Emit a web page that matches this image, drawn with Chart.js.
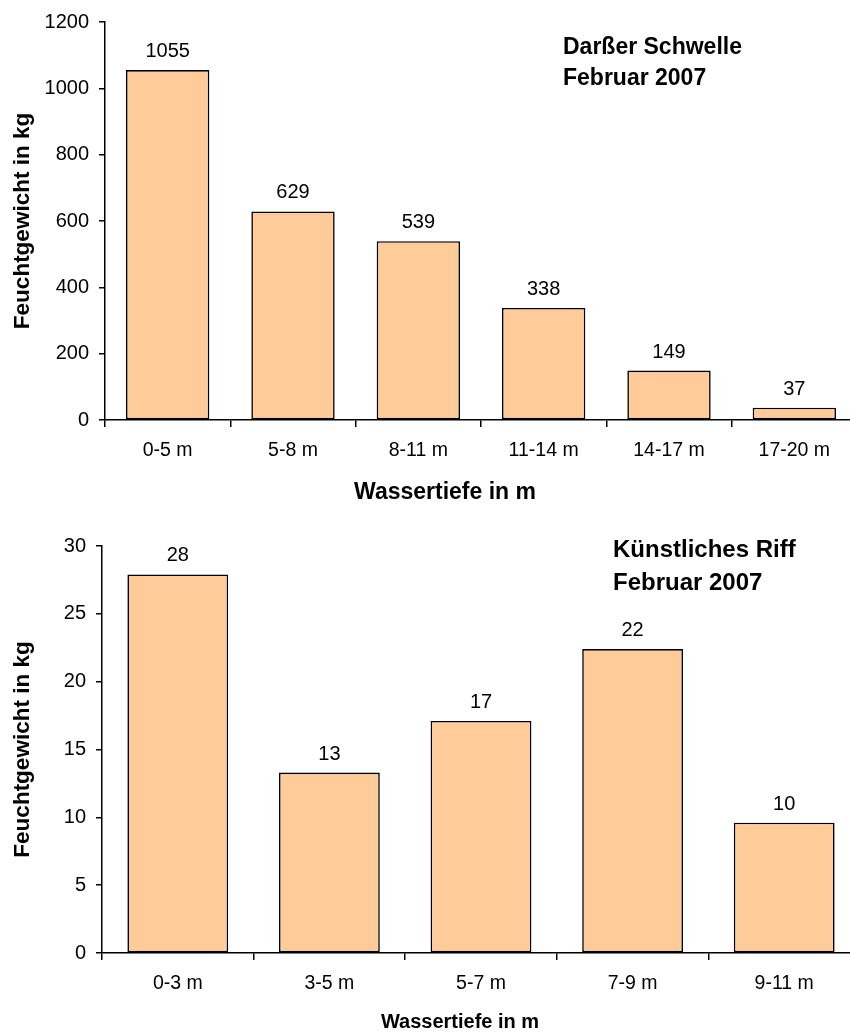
<!DOCTYPE html>
<html>
<head>
<meta charset="utf-8">
<script src="https://cdn.jsdelivr.net/npm/chart.js@4"></script>
<style>
  html, body { margin: 0; padding: 0; background: #fff; overflow: hidden; }
  #wrap { position: relative; width: 850px; height: 1032px; overflow: hidden; }
  #top_chart { position: absolute; left: 0; top: 0; }
  #bottom_chart { position: absolute; left: 0; top: 516px; }
</style>
</head>
<body>
<div id="wrap">
  <canvas id="top_chart" width="857" height="516"></canvas>
  <canvas id="bottom_chart" width="860" height="516"></canvas>
</div>
<script>
// Daten oben: Darßer Schwelle
const top_categories = ['0-5 m', '5-8 m', '8-11 m', '11-14 m', '14-17 m', '17-20 m'];
const top_values = [1055, 629, 539, 338, 149, 37];
const top_y_max = 1200, top_y_step = 200;

// Daten unten: Künstliches Riff
const bottom_categories = ['0-3 m', '3-5 m', '5-7 m', '7-9 m', '9-11 m'];
const bottom_values = [27.9, 13.3, 17.1, 22.4, 9.6];
const bottom_y_max = 30, bottom_y_step = 5;

const y_title = 'Feuchtgewicht in kg';
const x_title = 'Wassertiefe in m';
const top_note = ['Darßer Schwelle', 'Februar 2007'];
const bottom_note = ['Künstliches Riff', 'Februar 2007'];

const FONT = '"Liberation Sans", Arial, sans-serif';

// Beschriftungen über den Balken + Achsentitel + Notiz
const textPlugin = {
    id: 'texts',
    afterDatasetsDraw(chart, args, o) {
        const ctx = chart.ctx;
        const area = chart.chartArea;
        ctx.save();
        ctx.fillStyle = '#000';

        // Werte über den Balken
        ctx.font = '20px ' + FONT;
        ctx.textAlign = 'center';
        ctx.textBaseline = 'alphabetic';
        const meta = chart.getDatasetMeta(0);
        meta.data.forEach((bar, i) => {
            const v = chart.data.datasets[0].data[i];
            ctx.fillText(String(Math.round(v)), bar.x, bar.y - 13);
        });

        // y Titel
        ctx.font = 'bold ' + o.yTitleSize + 'px ' + FONT;
        ctx.save();
        ctx.translate(o.yTitleX, (area.top + area.bottom) / 2);
        ctx.rotate(-Math.PI / 2);
        ctx.textBaseline = 'middle';
        ctx.fillText(y_title, 0, 0);
        ctx.restore();

        // x Titel
        ctx.font = 'bold ' + o.xTitleSize + 'px ' + FONT;
        ctx.textAlign = 'center';
        ctx.fillText(x_title, o.xTitleX, o.xTitleY);

        // Notiz
        ctx.font = 'bold ' + o.noteSize + 'px ' + FONT;
        ctx.textAlign = 'left';
        o.note.forEach((line, i) => {
            ctx.fillText(line, o.noteX, o.noteY + i * o.noteGap);
        });
        ctx.restore();
    }
};

function make_chart(id, cats, vals, ymax, ystep, padTop, yWidth, xHeight, texts) {
    const ctx = document.getElementById(id).getContext('2d');
    return new Chart(ctx, {
        type: 'bar',
        data: {
            labels: cats,
            datasets: [{
                data: vals,
                backgroundColor: '#FFCC99',
                borderColor: '#000',
                borderWidth: 1.6,
                borderSkipped: false,
                barPercentage: 0.665,
                categoryPercentage: 1.0,
            }],
        },
        options: {
            responsive: false,
            animation: false,
            layout: { padding: { top: padTop, right: 0, bottom: 0, left: 0 } },
            plugins: {
                legend: { display: false },
                tooltip: { enabled: false },
                texts: texts,
            },
            scales: {
                x: {
                    grid: { offset: true, drawOnChartArea: false, drawTicks: true, tickLength: 7, color: '#000', lineWidth: 1.5 },
                    border: { display: true, color: '#000', width: 1.5 },
                    ticks: { color: '#000', font: { family: FONT, size: 19.5 }, padding: 12, maxRotation: 0 },
                    afterFit: (scale) => { scale.height = xHeight; },
                },
                y: {
                    min: 0,
                    max: ymax,
                    grid: { drawOnChartArea: false, drawTicks: true, tickLength: 6, color: '#000', lineWidth: 1.5 },
                    border: { display: true, color: '#000', width: 1.5 },
                    ticks: {
                        stepSize: ystep, color: '#000', font: { family: FONT, size: 20 }, padding: 10,
                        callback: (v) => String(v),
                    },
                    afterFit: (scale) => { scale.width = yWidth; },
                },
            },
        },
        plugins: [textPlugin],
    });
}

make_chart('top_chart', top_categories, top_values, top_y_max, top_y_step, 19, 105, 96, {
    yTitleX: 23, yTitleSize: 22.5,
    xTitleX: 445, xTitleY: 499, xTitleSize: 23,
    note: top_note, noteX: 563, noteY: 54, noteGap: 31, noteSize: 23,
});

make_chart('bottom_chart', bottom_categories, bottom_values, bottom_y_max, bottom_y_step, 30, 102, 79, {
    yTitleX: 23, yTitleSize: 22.5,
    xTitleX: 460, xTitleY: 512, xTitleSize: 20,
    note: bottom_note, noteX: 613, noteY: 41, noteGap: 33, noteSize: 24,
});
</script>
</body>
</html>
